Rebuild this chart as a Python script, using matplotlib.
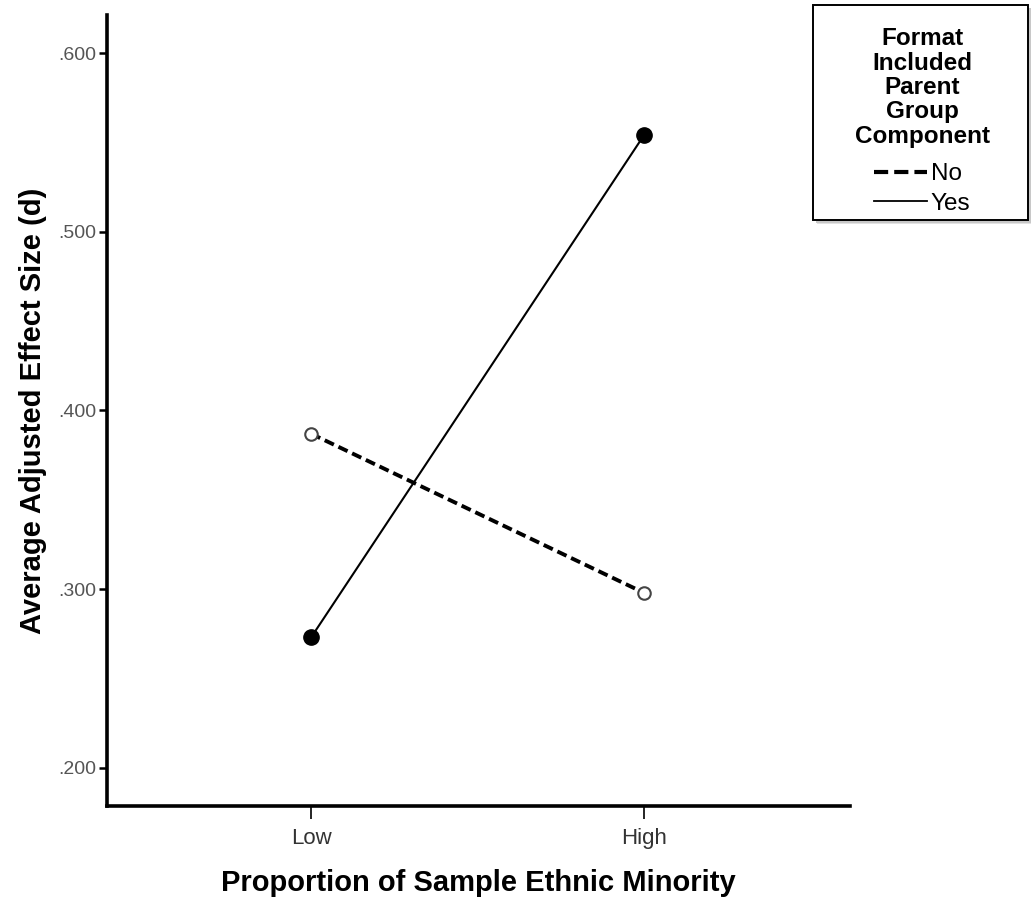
import matplotlib
matplotlib.use("Agg")
import matplotlib.pyplot as plt
from matplotlib.patches import Rectangle

# Data
categories = ["Low", "High"]
group_labels = ["No", "Yes"]
no_values = [0.387, 0.298]
yes_values = [0.273, 0.554]
y_ticks = [0.2, 0.3, 0.4, 0.5, 0.6]
y_tick_labels = [".200", ".300", ".400", ".500", ".600"]
legend_title = "Format\nIncluded\nParent\nGroup\nComponent"

plt.rcParams["font.family"] = ["Liberation Sans", "DejaVu Sans"]

W, H = 1031, 900
fig = plt.figure(figsize=(W / 100, H / 100), dpi=100)
ax = fig.add_axes([107 / W, 1 - 806 / H, (850 - 107) / W, (806 - 15) / H])

x = list(range(len(categories)))
ax.plot(x, no_values, linestyle=(0, (2.6, 1.3)), color="black", lw=2.8,
        marker="o", markersize=9, markerfacecolor="white",
        markeredgecolor="#444444", markeredgewidth=1.5, label=group_labels[0])
ax.plot(x, yes_values, linestyle="-", color="black", lw=1.5,
        marker="o", markersize=11, markerfacecolor="black",
        markeredgecolor="black", label=group_labels[1])

ax.set_xlim(-0.613, 1.619)
ax.set_ylim(0.1787, 0.6213)
ax.set_xticks(x)
ax.set_xticklabels(categories)
ax.set_yticks(y_ticks)
ax.set_yticklabels(y_tick_labels)

for side in ("top", "right"):
    ax.spines[side].set_visible(False)
for side in ("left", "bottom"):
    ax.spines[side].set_linewidth(2.6)
    ax.spines[side].set_color("black")

ax.tick_params(axis="y", direction="out", length=6, width=1.8, colors="black",
               labelcolor="#555555", labelsize=14, pad=2)
ax.tick_params(axis="x", direction="out", length=9, width=1.2, colors="black",
               labelcolor="#333333", labelsize=16, pad=7)

ax.set_xlabel("Proportion of Sample Ethnic Minority", fontsize=21,
              fontweight="bold", labelpad=14)
ax.set_ylabel("Average Adjusted Effect Size (d)", fontsize=21,
              fontweight="bold", labelpad=8)

# Legend box with a soft drop shadow, in figure pixels
for off, col in ((4, "#e2e2e2"), (3, "#c8c8c8")):
    fig.patches.append(Rectangle(((813 + off) / W, 1 - (220 + off) / H),
                                 215 / W, 215 / H, transform=fig.transFigure,
                                 facecolor=col, edgecolor="none", zorder=4))
fig.patches.append(Rectangle((813 / W, 1 - 220 / H), 215 / W, 215 / H,
                             transform=fig.transFigure, facecolor="white",
                             edgecolor="black", linewidth=1.4, zorder=5))

no_handle = plt.Line2D([], [], linestyle=(0, (3.4, 1.45)), color="black", lw=3.0)
yes_handle = plt.Line2D([], [], linestyle="-", color="black", lw=1.3)
leg = fig.legend([no_handle, yes_handle], group_labels, title=legend_title,
                 loc="upper center", bbox_to_anchor=(922 / W, 1 - 15 / H),
                 frameon=False, handlelength=2.2, handletextpad=0.15,
                 borderpad=0, labelspacing=0.3, fontsize=17.5,
                 title_fontsize=17.5)
leg.set_zorder(6)
leg.get_title().set_fontweight("bold")
leg.get_title().set_multialignment("center")
leg.get_title().set_linespacing(1.08)
# extra gap between the title block and the entries
leg._legend_box.sep = 11

fig.savefig("out.png", dpi=100)
